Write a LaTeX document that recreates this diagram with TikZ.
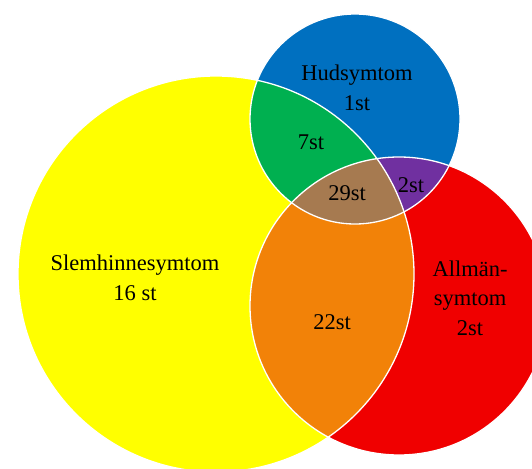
\documentclass[tikz,border=0pt]{standalone}
\usepackage{fontspec}
\setmainfont{Liberation Serif}
\definecolor{cyel}{RGB}{255,255,0}
\definecolor{cblue}{RGB}{0,112,192}
\definecolor{cred}{RGB}{240,0,0}
\definecolor{cgreen}{RGB}{0,176,80}
\definecolor{corange}{RGB}{242,130,8}
\definecolor{cpurple}{RGB}{112,48,160}
\definecolor{cbrown}{RGB}{166,122,80}
\begin{document}
\begin{tikzpicture}[x=1pt,y=-1pt,
  lbl/.style={font=\fontsize{22.5}{29.5}\selectfont, align=center, text=black, inner sep=0pt},
  ring/.style={draw=white, line width=1.3pt}]
\useasboundingbox (0,0) rectangle (532,468);
\clip (0,0) rectangle (532,468);
\def\yelc{(216,274) circle[radius=198]}
\def\bluc{(355,119) circle[radius=105]}
\def\redc{(399,306) circle[radius=149]}
\fill[cyel] \yelc;
\fill[cblue] \bluc;
\fill[cred] \redc;
\begin{scope}\clip \yelc; \fill[cgreen] \bluc; \end{scope}
\begin{scope}\clip \yelc; \fill[corange] \redc; \end{scope}
\begin{scope}\clip \bluc; \fill[cpurple] \redc; \end{scope}
\begin{scope}\clip \yelc; \clip \bluc; \fill[cbrown] \redc; \end{scope}
\draw[ring] \yelc;
\draw[ring] \bluc;
\draw[ring] \redc;
\node[lbl] (hud) at (357,88) {Hudsymtom\\1st};
\node[lbl] (hy) at (311,142) {7st};
\node[lbl] (all3) at (347,193) {29st};
\node[lbl] (hr) at (411,185) {2st};
\node[lbl] (slem) at (135,278) {Slemhinnesymtom\\16 st};
\node[lbl] (yr) at (332,322) {22st};
\node[lbl] (allm) at (470,298) {Allmän-\\symtom\\2st};
\end{tikzpicture}
\end{document}
